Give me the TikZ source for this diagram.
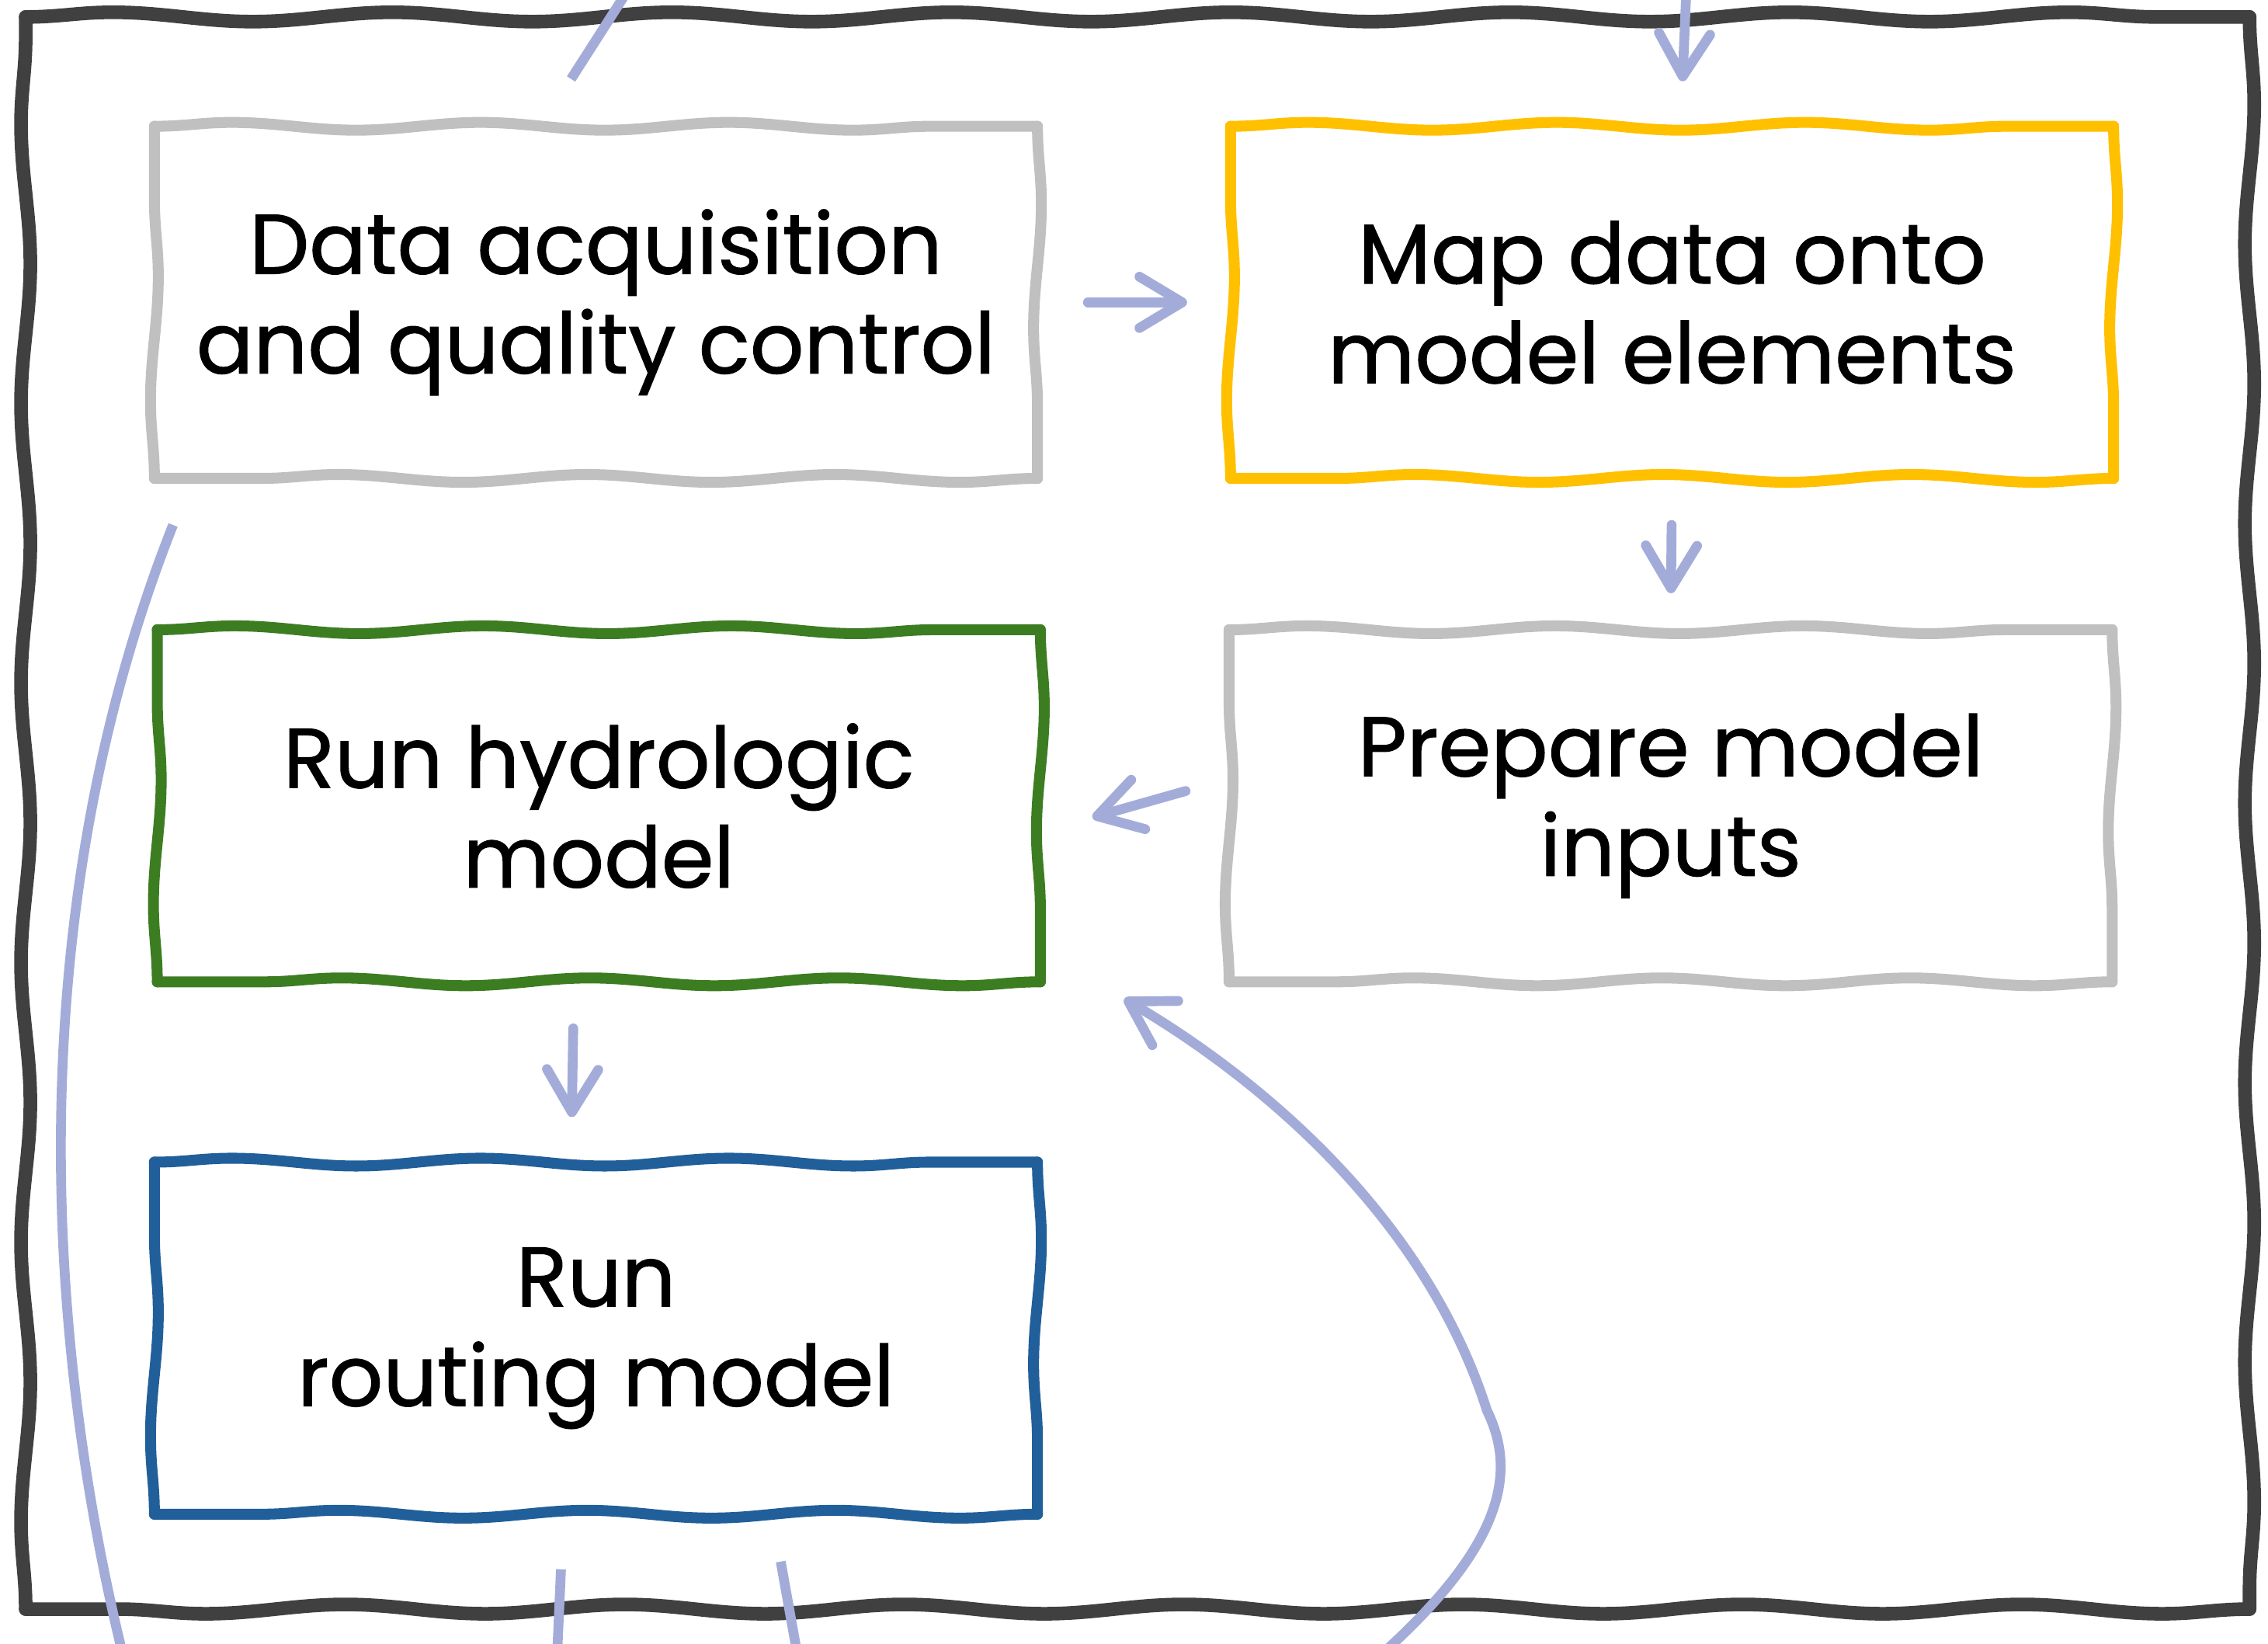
\documentclass[tikz,border=0pt]{standalone}
\usepackage{fontspec}
\setmainfont{Poppins}[FakeBold=1]
\usepackage{tikz}
\usetikzlibrary{decorations.pathmorphing,arrows.meta}

\definecolor{framegray}{HTML}{404040}
\definecolor{boxgray}{HTML}{C0C0C0}
\definecolor{mapyellow}{HTML}{FFC000}
\definecolor{hydrogreen}{HTML}{3C7D22}
\definecolor{routeblue}{HTML}{215F9A}
\definecolor{flowblue}{HTML}{A3ACD9}

\tikzset{
	wobble/.style={line cap=round, decorate, decoration={snake, segment length=3.2cm, amplitude=0.05cm}},
	task/.style={minimum width=11.36cm, minimum height=4.52cm,
		align=center, inner sep=0pt, font=\fontsize{31}{36.5}\selectfont},
	flow/.style={draw=flowblue, line width=3.6pt, line cap=round, -{Straight Barb[length=0.55cm,width=0.66cm,round]}},
	tail/.style={draw=flowblue, line width=3.6pt}
}
\newcommand{\sketchedge}[2]{\foreach \a/\b in {north west/north east, north east/south east, south east/south west, south west/north west}
	\draw[wobble, #2] (#1.\a) -- (#1.\b);}

\begin{document}
\begin{tikzpicture}[x=0.01863cm, y=-0.01863cm]
			\clip (0,0) rectangle (1568,1136);
			\node[minimum width=28.63cm, minimum height=20.49cm] (frame) at (786.5,562) {};
			\sketchedge{frame}{draw=framegray, line width=5pt, decoration={segment length=3.6cm, amplitude=0.06cm}}

			\node[task] (acq) at (412,209) {Data acquisition\\and quality control};
			\node[task] (mapping) at (1156,209) {Map data onto\\model elements};
			\node[task] (prep) at (1155,557) {Prepare model\\inputs};
			\node[task] (hydro) at (414,557) {Run hydrologic\\model};
			\node[task] (routing) at (412,925) {Run\\routing model};
			\sketchedge{acq}{draw=boxgray, line width=4pt}
			\sketchedge{mapping}{draw=mapyellow, line width=4pt}
			\sketchedge{prep}{draw=boxgray, line width=4pt}
			\sketchedge{hydro}{draw=hydrogreen, line width=4pt}
			\sketchedge{routing}{draw=routeblue, line width=4pt}

			\coordinate (topA) at (433,-5);
			\coordinate (topB) at (1166,-10);
			\coordinate (outL) at (97,1190);
			\coordinate (outR) at (930,1165);
			\coordinate (outM1) at (384,1170);
			\coordinate (outM2) at (556,1170);

			\draw[flow, shorten <=0.65cm, shorten >=0.56cm] (acq.east) -- (mapping.west);
			\draw[flow, shorten <=0.6cm, shorten >=0.47cm] (mapping.south) -- (prep.north);
			\draw[flow] ([xshift=-0.56cm, yshift=0.19cm]prep.west) -- ([xshift=0.67cm, yshift=-0.15cm]hydro.east);
			\draw[flow, shorten <=0.6cm, shorten >=0.58cm] ([xshift=-0.32cm]hydro.south) -- ([xshift=-0.32cm]routing.north);
			\draw[flow, shorten >=0.58cm] (topB) -- ([xshift=0.11cm]mapping.north);
			\draw[flow] (outR) .. controls (1040,1075) and (1050,1020) .. (1028,975) .. controls (985,840) and (870,745) .. ([xshift=1.08cm, yshift=-0.22cm]hydro.south east);

			\draw[tail] ([xshift=-0.32cm, yshift=0.61cm]acq.north) -- (topA);
			\draw[tail] ([xshift=0.24cm, yshift=-0.6cm]acq.south west) .. controls (10,640) and (30,950) .. (outL);
			\draw[tail] ([xshift=-0.45cm, yshift=-0.71cm]routing.south) -- (outM1);
			\draw[tail] ([xshift=2.38cm, yshift=-0.61cm]routing.south) -- (outM2);
		\end{tikzpicture}
\end{document}
